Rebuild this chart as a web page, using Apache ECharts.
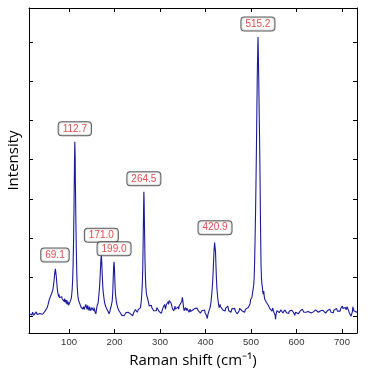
<!DOCTYPE html>
<html>
<head>
<meta charset="utf-8">
<script src="https://cdn.jsdelivr.net/npm/echarts@6/dist/echarts.min.js"></script>
<style>
html,body{margin:0;padding:0;background:#fff;}
#chart{width:368px;height:372px;}
</style>
</head>
<body>
<div id="chart"></div>
<script>
// Raman spectrum: [shift (cm-1), intensity (a.u.)]
var spectrum = [
[12,6],[14,1],[16,8],[18,3],[20,10],[22,2],[24,7],[26,3],[28,11],[30,4],[32,8],[34,0],[36,7],[38,4],[40,12],[42,5],[44,10],[46,7],[48,14],[50,12],
[52,22],[54,30],[56,40],[57,45],[58,41],[59,50],[60,54],[61,52],[62,58],[63,63],[64,66],[65,72],[66,80],[67,90],[68,103],[69,114],[70,121],[70.5,123],[71,118],[72,102],
[73,86],[74,72],[75,62],[76,57],[77,50],[78,56],[79,47],[80,51],[81,43],[82,48],[83,42],[84,50],[85,44],[86,39],[87,45],[88,47],[89,38],[90,45],[91,36],[92,42],
[93,37],[94,33],[95,41],[96,30],[97,35],[98,37],[99,28],[100,33],[101,30],[102,36],[103,33],[104,38],[105,46],[106,56],[107,70],[108,95],[109,135],[110,195],[111,285],[112,395],
[112.7,446],[113.5,405],[114,340],[115,250],[116,170],[117,112],[118,76],[119,58],[120,47],[121,40],[122,44],[123,34],[124,30],[125,36],[126,24],[128,20],[129,26],[130,18],[132,24],[133,17],
[134,22],[136,20],[137,30],[138,24],[140,17],[141,28],[142,22],[144,14],[145,24],[146,19],[147,28],[148,14],[150,22],[151,17],[152,26],[154,14],[155,22],[156,18],[157,12],[158,16],
[159,6],[160,15],[161,22],[162,28],[163,24],[164,34],[165,46],[166,60],[167,74],[168,94],[169,118],[170,142],[171,156],[172,138],[173,104],[174,80],[175,62],[176,54],[177,44],[178,36],
[179,32],[180,26],[181,29],[182,22],[183,18],[184,21],[185,14],[186,12],[187,8],[188,6],[189,9],[190,13],[191,19],[192,23],[193,27],[194,31],[195,40],[196,58],[197,92],[198,126],
[199,139],[200,118],[201,82],[202,58],[203,46],[204,38],[205,31],[206,26],[207,22],[208,18],[209,15],[210,12],[211,11],[212,14],[213,8],[214,5],[215,7],[216,2],[217,0],[218,-2],
[220,4],[221,1],[222,6],[224,3],[225,9],[226,6],[227,12],[228,4],[230,10],[231,7],[232,14],[233,9],[234,15],[235,6],[236,11],[237,2],[238,8],[239,4],[240,1],[242,9],
[243,6],[244,14],[245,10],[246,17],[247,12],[248,20],[249,14],[250,10],[252,16],[253,12],[254,18],[255,11],[256,16],[257,22],[258,30],[259,42],[260,58],[261,80],[262,118],[263,195],
[264,285],[264.5,318],[265,298],[266,220],[267,140],[268,96],[269,72],[270,58],[271,52],[272,47],[273,44],[274,40],[275,33],[276,26],[277,21],[278,26],[279,30],[280,24],[281,28],[282,22],
[284,18],[285,24],[286,14],[288,16],[289,10],[290,19],[292,14],[293,22],[294,18],[295,25],[296,20],[298,12],[299,17],[300,10],[302,14],[303,7],[304,12],[306,20],[307,16],[308,24],
[310,30],[311,26],[312,18],[313,24],[314,30],[315,26],[316,34],[318,37],[319,30],[320,40],[321,44],[322,38],[323,45],[324,34],[326,26],[327,20],[328,16],[329,22],[330,14],[332,20],
[333,26],[334,18],[336,15],[337,21],[338,17],[340,24],[341,18],[342,26],[344,22],[345,30],[346,25],[348,38],[349,48],[350,42],[351,30],[352,20],[353,14],[354,11],[355,16],[356,22],
[358,14],[359,20],[360,17],[362,22],[363,15],[364,10],[366,18],[367,12],[368,7],[370,14],[371,9],[372,16],[374,12],[375,18],[376,14],[377,20],[378,15],[380,22],[381,16],[382,20],
[384,14],[385,18],[386,10],[388,14],[389,8],[390,6],[391,11],[392,14],[394,10],[395,16],[396,12],[398,16],[399,9],[400,12],[401,5],[402,2],[403,-2],[404,-6],[405,2],[406,8],
[407,12],[408,15],[409,18],[410,22],[411,26],[412,35],[413,48],[414,60],[415,76],[416,95],[417,120],[418,148],[419,172],[420,188],[420.9,193],[421.5,186],[422,165],[423,128],[424,96],[425,72],
[426,58],[427,46],[428,36],[429,28],[430,22],[431,26],[432,30],[433,24],[434,20],[435,28],[436,24],[438,16],[439,20],[440,14],[442,18],[443,13],[444,20],[445,24],[446,16],[448,22],
[449,26],[450,20],[451,14],[452,18],[454,12],[455,16],[456,10],[457,13],[458,19],[460,15],[461,22],[462,18],[464,20],[465,16],[466,12],[468,9],[469,14],[470,6],[471,3],[472,8],
[474,14],[475,20],[476,16],[478,22],[479,18],[480,14],[482,18],[483,11],[484,14],[486,10],[487,14],[488,18],[490,14],[491,20],[492,16],[494,22],[495,18],[496,26],[498,32],[499,42],
[500,46],[501,40],[502,48],[503,56],[504,64],[505,72],[506,80],[507,100],[508,140],[509,200],[510,265],[511,345],[512,435],[513,540],[514,630],[515,695],[515.5,714],[516,680],[517,605],[518,520],
[519,440],[520,340],[521,225],[522,132],[523,98],[524,82],[525,74],[526,62],[527,56],[528,64],[529,52],[530,44],[531,48],[532,42],[533,46],[534,35],[535,32],[536,36],[537,30],[538,28],
[539,24],[540,26],[541,20],[542,24],[543,18],[544,22],[545,15],[546,13],[547,18],[548,21],[549,14],[550,12],[551,16],[552,10],[553,2],[554,-8],[555,4],[556,8],[557,14],[558,10],
[559,16],[560,14],[562,9],[563,13],[564,10],[566,16],[567,11],[568,14],[570,8],[571,13],[572,10],[574,16],[575,12],[576,15],[578,9],[579,13],[580,10],[582,12],[583,7],[584,13],
[586,11],[587,16],[588,12],[590,15],[591,10],[592,12],[594,8],[595,4],[596,2],[597,6],[598,10],[600,12],[601,8],[602,12],[604,6],[605,10],[606,8],[608,13],[609,9],[610,15],
[612,12],[613,18],[614,16],[616,10],[617,14],[618,8],[620,12],[621,10],[622,14],[624,9],[625,15],[626,12],[628,10],[629,16],[630,14],[632,8],[633,12],[634,9],[636,6],[637,11],
[638,9],[640,14],[641,10],[642,16],[644,18],[645,12],[646,15],[648,10],[649,14],[650,11],[652,9],[653,14],[654,12],[656,16],[657,11],[658,15],[660,10],[661,14],[662,12],[664,8],
[665,13],[666,9],[668,14],[669,11],[670,16],[672,12],[673,18],[674,14],[676,10],[677,15],[678,11],[680,13],[681,9],[682,15],[684,12],[685,16],[686,14],[688,20],[689,16],[690,13],
[692,18],[693,14],[694,17],[696,13],[697,19],[698,16],[700,22],[701,26],[702,20],[704,16],[705,22],[706,18],[708,22],[709,16],[710,20],[711,24],[712,20],[714,16],[715,12],[716,9],
[717,14],[718,10],[719,6],[720,0],[721,-3],[722,4],[723,12],[724,24],[725,20],[726,14],[728,18],[729,12],[730,16],[732,10],[733,12]
];

// Annotated peaks
var peakShift = [69.1, 112.7, 171.0, 199.0, 264.5, 420.9, 515.2];
var peakIntensity = [123, 446, 156, 139, 318, 193, 714];
var peakLabel = ['69.1', '112.7', '171.0', '199.0', '264.5', '420.9', '515.2'];

// Axis ranges
var shiftRange = [12, 733];
var intensityRange = [-43, 788];

var peakData = peakShift.map(function (s, i) {
  return {
    value: [s, peakIntensity[i]],
    label: { distance: peakLabel[i] === '171.0' ? 13 : 6 }
  };
});

var chart = echarts.init(document.getElementById('chart'), null, { renderer: 'canvas' });

var axisLineStyle = { show: true, onZero: false, lineStyle: { color: '#000', width: 1 } };
var tickStyle = { show: true, inside: true, length: 4, lineStyle: { color: '#000', width: 1 } };

chart.setOption({
  animation: false,
  backgroundColor: '#fff',
  grid: { left: 29, right: 11, top: 8, bottom: 39, containLabel: false, outerBoundsMode: 'none' },
  xAxis: [
    {
      type: 'value', position: 'bottom',
      min: shiftRange[0], max: shiftRange[1], splitNumber: 7,
      axisLine: axisLineStyle, axisTick: tickStyle, splitLine: { show: false },
      axisLabel: {
        margin: 4, color: '#333', fontSize: 9.5, fontFamily: 'Liberation Sans',
        formatter: function (v) { return v % 100 === 0 ? String(v) : ''; }
      },
      name: 'Raman shift (cm⁻¹)', nameLocation: 'middle', nameGap: 20,
      nameTextStyle: { fontFamily: 'Open Sans', fontSize: 15, color: '#000' }
    },
    {
      type: 'value', position: 'top',
      min: shiftRange[0], max: shiftRange[1], splitNumber: 7,
      axisLine: axisLineStyle, axisTick: tickStyle, splitLine: { show: false },
      axisLabel: { show: false }
    }
  ],
  yAxis: [
    {
      type: 'value', position: 'left',
      min: intensityRange[0], max: intensityRange[1], splitNumber: 8,
      axisLine: axisLineStyle, axisTick: tickStyle, splitLine: { show: false },
      axisLabel: { show: false },
      name: 'Intensity', nameLocation: 'middle', nameGap: 8,
      nameTextStyle: { fontFamily: 'Open Sans', fontSize: 15, color: '#000', padding: [0, 0, 0, 20] }
    },
    {
      type: 'value', position: 'right',
      min: intensityRange[0], max: intensityRange[1], splitNumber: 8,
      axisLine: axisLineStyle, axisTick: tickStyle, splitLine: { show: false },
      axisLabel: { show: false }
    }
  ],
  series: [
    {
      type: 'line',
      data: spectrum,
      showSymbol: false,
      symbol: 'none',
      lineStyle: { color: '#1a1a9c', width: 1.1 },
      z: 2
    },
    {
      type: 'scatter',
      data: peakData,
      symbolSize: 1,
      itemStyle: { color: 'rgba(0,0,0,0)' },
      z: 5,
      label: {
        show: true,
        position: 'top',
        formatter: function (p) { return peakLabel[p.dataIndex]; },
        color: '#d81e1e',
        fontSize: 10,
        fontFamily: 'Liberation Sans',
        lineHeight: 11,
        backgroundColor: '#fcfcfc',
        borderColor: '#333',
        borderWidth: 1,
        borderRadius: 3,
        padding: [1, 4, 1, 4]
      }
    }
  ]
});
</script>
</body>
</html>
